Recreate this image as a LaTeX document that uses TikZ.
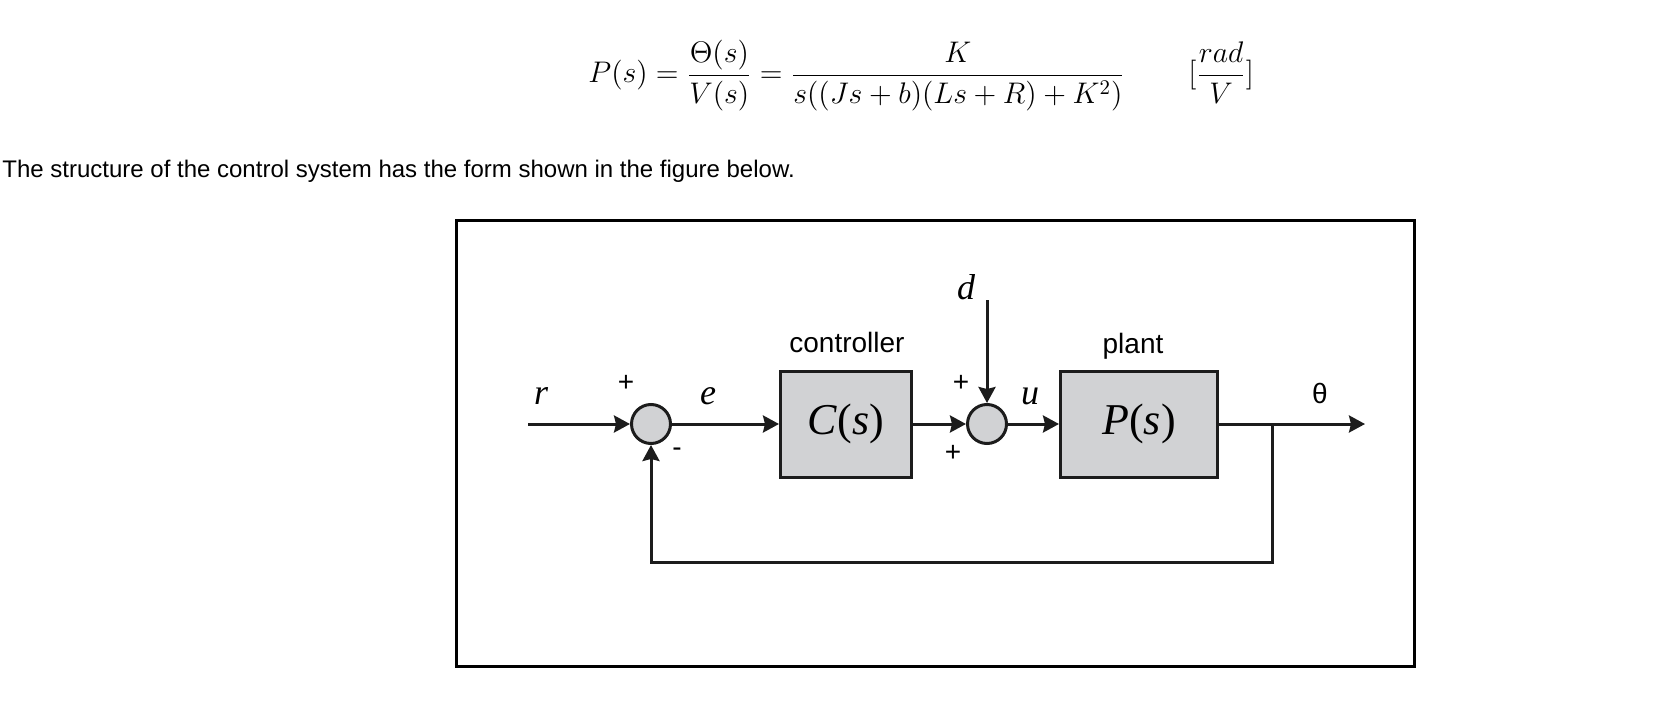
\RequirePackage{fix-cm}
\documentclass[tikz,border=0pt]{standalone}
\usepackage{fontspec}
\usetikzlibrary{arrows.meta}
\newfontfamily\sansfont{Liberation Sans}
\newfontfamily\seriffont{Liberation Serif}
\newcommand\lblfont{\sansfont\fontsize{14}{16}\selectfont}
\newcommand\sigfont{\seriffont\itshape\fontsize{18}{20}\selectfont}
\newcommand\blockfont{\seriffont\fontsize{22}{24}\selectfont}
\newcommand\formfont{\fontsize{14.9}{17}\selectfont}
\definecolor{blockgray}{HTML}{D1D2D4}
\definecolor{linegray}{HTML}{1C1C1C}
\begin{document}
\begin{tikzpicture}[x=0.5pt,y=-0.5pt,
        sig/.style={line width=1.5pt,draw=linegray,-{Stealth[length=8pt,width=8.5pt,inset=1pt]}},
        block/.style={draw=linegray,line width=1.5pt,fill=blockgray,minimum height=53pt,inner sep=0pt,font=\blockfont},
        adder/.style={circle,draw=linegray,line width=1.5pt,fill=blockgray,minimum size=19.5pt,inner sep=0pt},
        lbl/.style={font=\lblfont,inner sep=0pt},
        var/.style={font=\sigfont,inner sep=0pt,anchor=base}]
        \useasboundingbox (0,0) rectangle (1654,706);

        % Formel
        \node[anchor=base west,inner sep=0pt,font=\formfont] (formula) at (588,83)
            {$\displaystyle P(s)=\frac{\Theta(s)}{V(s)}=\frac{K}{s((Js+b)(Ls+R)+K^2)}$};
        \node[anchor=base west,inner sep=0pt,font=\formfont] (unit) at (1188,83)
            {$\displaystyle [\frac{rad}{V}]$};
        \node[anchor=base west,inner sep=0pt,font=\sansfont\fontsize{12}{14}\selectfont] (intro) at (2,177)
            {The structure of the control system has the form shown in the figure below.};

        % Rahmen
        \draw[line width=1.5pt] (456.5,220.5) rectangle (1414.5,666.5);

        % Bloecke
        \node[block,minimum width=65.5pt] (ctrl) at (846,424) {\textit{C}(\textit{s})};
        \node[block,minimum width=78.5pt] (plant) at (1139,424) {\textit{P}(\textit{s})};
        \node[adder] (sum1) at (651,424) {};
        \node[adder] (sum2) at (987,424) {};
        \coordinate (in) at (528,424);
        \coordinate (dist) at (987,300);
        \coordinate (out) at (1365,424);
        \coordinate (split) at (1272,424);
        \coordinate (fb) at (1272,562);

        % Beschriftung
        \node[lbl,anchor=base] (ctrllabel) at (847,352) {controller};
        \node[lbl,anchor=base] (plantlabel) at (1133,353) {plant};
        \node[var] (rlabel) at (541,404) {r};
        \node[var] (elabel) at (708,404) {e};
        \node[var] (ulabel) at (1030,404) {u};
        \node[var] (dlabel) at (966,299) {d};
        \node[lbl,anchor=base] (thetalabel) at (1320,403) {θ};
        \node[lbl] (plus1) at (626,383) {+};
        \node[lbl] (minus1) at (677,452) {-};
        \node[lbl] (plus2) at (961,383) {+};
        \node[lbl] (plus3) at (953,453) {+};

        % Signale
        \draw[sig] (in) -- (sum1);
        \draw[sig] (sum1) -- (ctrl);
        \draw[sig] (ctrl) -- (sum2);
        \draw[sig] (dist) -- (sum2);
        \draw[sig] (sum2) -- (plant);
        \draw[sig] (plant) -- (out);

        % Rueckfuehrung
        \draw[sig] (split) -- (fb) -| (sum1);
    \end{tikzpicture}
\end{document}
